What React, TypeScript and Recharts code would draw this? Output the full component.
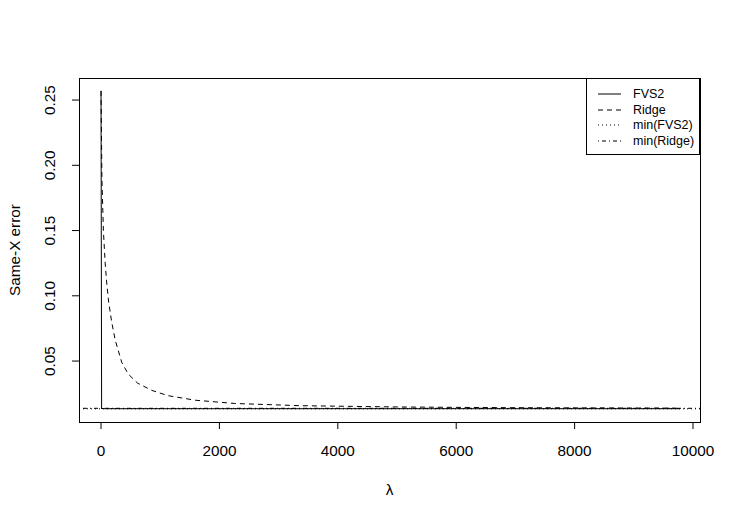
import React from "react";
import { ComposedChart, Line, XAxis, YAxis, ReferenceLine } from "recharts";

const fvs2Lambda = [0, 10, 50, 200, 1000, 2000, 4000, 6000, 8000, 9780];
const fvs2Error = [0.257, 0.0137, 0.0135, 0.0135, 0.0135, 0.0135, 0.0135, 0.0135, 0.0135, 0.0135];

const ridgeLambda = [0, 15, 40, 70, 100, 130, 180, 240, 350, 460, 620, 860, 1130, 1590, 2260, 3360, 5050, 6740, 9780];
const ridgeError = [0.257, 0.19, 0.15, 0.125, 0.108, 0.095, 0.08, 0.066, 0.049, 0.04, 0.033, 0.0275, 0.0235, 0.02, 0.0175, 0.0158, 0.0148, 0.0143, 0.0139];

const minFVS2 = 0.0134;
const minRidge = 0.0138;

const xTicks = [0, 2000, 4000, 6000, 8000, 10000];
const yTicks = [0.05, 0.1, 0.15, 0.2, 0.25];

const legendItems = [
  { label: "FVS2", dash: undefined },
  { label: "Ridge", dash: "5 4" },
  { label: "min(FVS2)", dash: "1 3" },
  { label: "min(Ridge)", dash: "1 3 4 3" },
];

const fvs2Data = fvs2Lambda.map((x, i) => ({ x, v: fvs2Error[i] }));
const ridgeData = ridgeLambda.map((x, i) => ({ x, v: ridgeError[i] }));

const FONT = "'Liberation Sans', Arial, Helvetica, sans-serif";
const TICK_FS = 15.3;

const YTick = (props: any) => {
  const { x, y, payload } = props;
  const bx = x - 15;
  return (
    <text
      x={bx}
      y={y}
      transform={`rotate(-90, ${bx}, ${y})`}
      textAnchor="middle"
      fontSize={TICK_FS}
      fontFamily={FONT}
      fill="#000"
    >
      {Number(payload.value).toFixed(2)}
    </text>
  );
};

const XTick = (props: any) => {
  const { x, y, payload } = props;
  return (
    <text x={x} y={y + 25} textAnchor="middle" fontSize={TICK_FS} fontFamily={FONT} fill="#000">
      {payload.value}
    </text>
  );
};

const YTitle = (props: any) => {
  const vb = props.viewBox || { x: 0, y: 78, width: 79, height: 344 };
  const cx = vb.x + 20;
  const cy = vb.y + vb.height / 2;
  return (
    <text x={cx} y={cy} transform={`rotate(-90, ${cx}, ${cy})`} textAnchor="middle" fontSize={TICK_FS} fontFamily={FONT} fill="#000">
      Same-X error
    </text>
  );
};

const XTitle = (props: any) => {
  const vb = props.viewBox || { x: 79, y: 422, width: 621, height: 97 };
  const cx = vb.x + vb.width / 2;
  return (
    <text x={cx} y={vb.y + 73} textAnchor="middle" fontSize={TICK_FS} fontFamily={FONT} fill="#000">
      λ
    </text>
  );
};

const LegendBox = () => (
  <div
    style={{
      position: "absolute",
      left: 586,
      top: 78,
      width: 114,
      height: 77,
      border: "1px solid #000",
      boxSizing: "border-box",
      background: "#fff",
      fontFamily: FONT,
      fontSize: 12.5,
      paddingTop: 7,
    }}
  >
    {legendItems.map((it) => (
      <div key={it.label} style={{ display: "flex", alignItems: "center", height: 15.7 }}>
        <svg width={46} height={10} style={{ flex: "none" }}>
          <line x1={11} x2={34} y1={5} y2={5} stroke="#000" strokeWidth={1} strokeDasharray={it.dash} />
        </svg>
        <span style={{ whiteSpace: "nowrap" }}>{it.label}</span>
      </div>
    ))}
  </div>
);

export default function App() {
  return (
    <div style={{ position: "absolute", left: 0, top: 0, width: 741, height: 519, background: "#fff" }}>
      <ComposedChart width={741} height={519} margin={{ top: 78, right: 41, left: 0, bottom: 0 }}>
        <XAxis
          type="number"
          dataKey="x"
          domain={[-372, 10118]}
          ticks={xTicks}
          allowDataOverflow
          axisLine={false}
          tickLine={{ stroke: "#000" }}
          tickSize={7}
          height={97}
          tick={<XTick />}
          interval={0}
          label={{ content: <XTitle /> }}
        />
        <YAxis
          type="number"
          dataKey="v"
          domain={[0.0033, 0.2669]}
          ticks={yTicks}
          allowDataOverflow
          axisLine={false}
          tickLine={{ stroke: "#000" }}
          tickSize={7}
          width={79}
          tick={<YTick />}
          interval={0}
          label={{ content: <YTitle /> }}
        />
        <ReferenceLine y={minFVS2} stroke="#000" strokeDasharray="1 3" />
        <ReferenceLine y={minRidge} stroke="#000" strokeDasharray="1 3 4 3" />
        <Line data={ridgeData} dataKey="v" type="linear" stroke="#000" strokeWidth={1} strokeDasharray="5 4" dot={false} isAnimationActive={false} />
        <Line data={fvs2Data} dataKey="v" type="linear" stroke="#000" strokeWidth={1} dot={false} isAnimationActive={false} />
      </ComposedChart>
      <div
        style={{
          position: "absolute",
          left: 79,
          top: 78,
          width: 622,
          height: 345,
          border: "1px solid #000",
          boxSizing: "border-box",
          pointerEvents: "none",
        }}
      />
      <LegendBox />
    </div>
  );
}
